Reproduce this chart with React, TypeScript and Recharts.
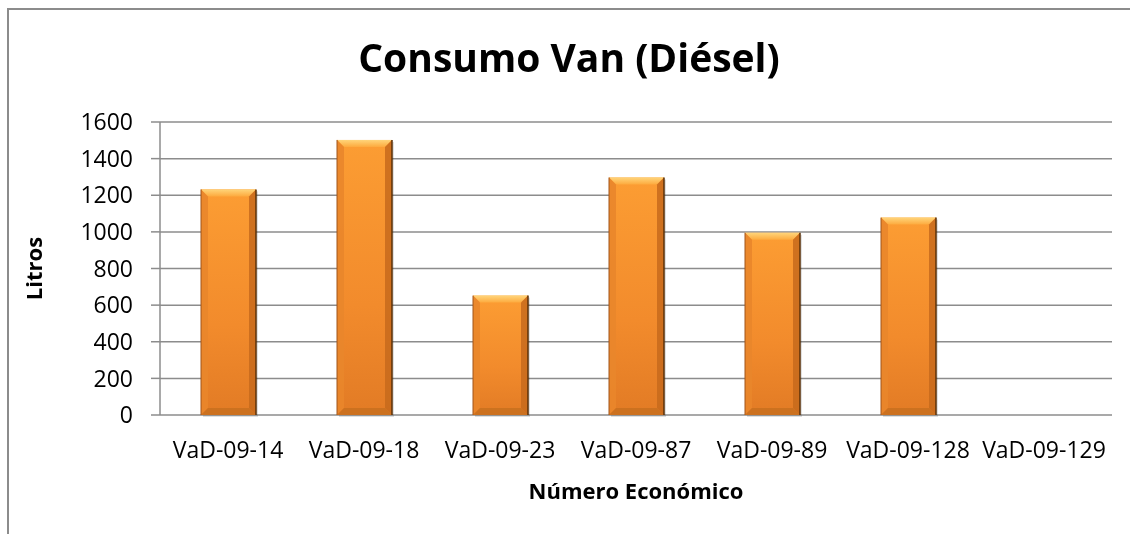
import { BarChart, Bar, XAxis, YAxis, CartesianGrid, Label } from 'recharts';

const vans = ['VaD-09-14', 'VaD-09-18', 'VaD-09-23', 'VaD-09-87', 'VaD-09-89', 'VaD-09-128', 'VaD-09-129'];
const litros = [1232, 1502, 652, 1297, 995, 1078, 0];
const yTicks = [0, 200, 400, 600, 800, 1000, 1200, 1400, 1600];

const data = vans.map((van, i) => ({ van, litros: litros[i] }));

const FONT = '"Open Sans", sans-serif';

function BevelBar(props: any) {
  const { x, y, width, height } = props;
  if (!height || height <= 0) return null;
  const b = Math.min(7, height / 2);
  const r = x + width;
  const btm = y + height;
  return (
    <g>
      <rect x={x + 2} y={y + 2} width={width} height={height} fill="#000" opacity={0.12} />
      <rect x={x} y={y} width={width} height={height} fill="url(#face)" />
      <polygon points={`${x},${y} ${r},${y} ${r - b},${y + b} ${x + b},${y + b}`} fill="url(#topBevel)" />
      <polygon points={`${x},${y} ${x + b},${y + b} ${x + b},${btm - b} ${x},${btm}`} fill="#e9862b" opacity={0.9} />
      <polygon points={`${r},${y} ${r - b},${y + b} ${r - b},${btm - b} ${r},${btm}`} fill="#c76a1c" opacity={0.85} />
      <polygon points={`${x},${btm} ${x + b},${btm - b} ${r - b},${btm - b} ${r},${btm}`} fill="#c8701f" opacity={0.85} />
      <line x1={r} y1={y} x2={r} y2={btm} stroke="#5a3008" strokeWidth={1.5} />
      <line x1={x} y1={y} x2={x} y2={btm} stroke="#a0541a" strokeWidth={1} />
    </g>
  );
}

export default function App() {
  return (
    <div style={{ position: 'relative', width: 1122, height: 518, background: '#fff' }}>
      <div
        style={{
          position: 'fixed',
          left: 7,
          top: 8,
          right: 0,
          bottom: 0,
          borderTop: '2px solid #8c8c8c',
          borderLeft: '2px solid #8c8c8c',
          pointerEvents: 'none',
        }}
      />
      <div
        style={{
          position: 'absolute',
          left: 0,
          width: 1122,
          top: 29,
          textAlign: 'center',
          fontFamily: FONT,
          fontWeight: 700,
          fontSize: 39,
          lineHeight: '40px',
          color: '#000',
        }}
      >
        Consumo Van (Diésel)
      </div>
      <BarChart
        width={1122}
        height={518}
        data={data}
        margin={{ top: 114, right: 18, bottom: 81, left: 0 }}
        barSize={55}
      >
        <defs>
          <linearGradient id="face" x1="0" y1="0" x2="0" y2="1">
            <stop offset="0%" stopColor="#fc9d33" />
            <stop offset="60%" stopColor="#f28b2c" />
            <stop offset="100%" stopColor="#e27b25" />
          </linearGradient>
          <linearGradient id="topBevel" x1="0" y1="0" x2="0" y2="1">
            <stop offset="0%" stopColor="#ffd57a" />
            <stop offset="100%" stopColor="#fdaa3e" />
          </linearGradient>
        </defs>
        <CartesianGrid vertical={false} stroke="#8c8c8c" strokeWidth={1.5} />
        <XAxis
          dataKey="van"
          height={30}
          axisLine={false}
          tickLine={false}
          tickSize={0}
          tickMargin={27}
          interval={0}
          tick={{ fill: '#000', fontSize: 23, fontFamily: FONT }}
        >
          <Label
            value="Número Económico"
            position="bottom"
            offset={38}
            style={{ fill: '#000', fontSize: 22, fontWeight: 700, fontFamily: FONT }}
          />
        </XAxis>
        <YAxis
          width={152}
          domain={[0, 1600]}
          ticks={yTicks}
          interval={0}
          axisLine={{ stroke: '#8c8c8c', strokeWidth: 1.5 }}
          tickLine={{ stroke: '#8c8c8c', strokeWidth: 1.5 }}
          tickSize={9}
          tickMargin={18}
          tick={{ fill: '#000', fontSize: 23, fontFamily: FONT }}
        >
          <Label
            value="Litros"
            angle={-90}
            position="insideLeft"
            offset={26}
            style={{ fill: '#000', fontSize: 22, fontWeight: 700, fontFamily: FONT, textAnchor: 'middle' }}
          />
        </YAxis>
        <Bar dataKey="litros" shape={<BevelBar />} isAnimationActive={false} />
      </BarChart>
    </div>
  );
}
